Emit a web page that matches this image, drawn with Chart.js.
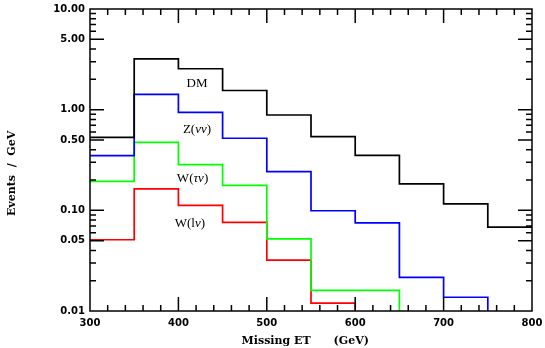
<!DOCTYPE html>
<html>
<head>
<meta charset="utf-8">
<script src="https://cdn.jsdelivr.net/npm/chart.js@4.4.1/dist/chart.umd.min.js"></script>
<style>
  body { margin: 0; background: #fff; }
</style>
</head>
<body>
<canvas id="histChart" width="545" height="348"></canvas>
<script>
// bin edges in Missing ET (GeV)
const binEdges = [300, 350, 400, 450, 500, 550, 600, 650, 700, 750, 800];

// events / GeV per bin (0.001 = below the plotted range)
const dmValues  = [0.53, 3.19, 2.55, 1.55, 0.885, 0.54, 0.352, 0.183, 0.116, 0.068];
const zvvValues = [0.35, 1.42, 0.94, 0.52, 0.242, 0.099, 0.075, 0.0216, 0.0137, 0.001];
const wtvValues = [0.194, 0.473, 0.284, 0.177, 0.052, 0.016, 0.016, 0.001, 0.001, 0.001];
const wlvValues = [0.051, 0.163, 0.112, 0.076, 0.032, 0.012, 0.001, 0.001, 0.001, 0.001];

const yTickLabels = [0.01, 0.05, 0.1, 0.5, 1, 5, 10];
const xTickLabels = [300, 400, 500, 600, 700, 800];

// curve labels placed in data coordinates
const curveNames = ['DM', 'Z(νν)', 'W(τν)', 'W(lν)'];
const curveNameX = [421, 421, 416, 413];
const curveNameY = [1.81, 0.63, 0.206, 0.074];

function toSteps(values) {
  const pts = values.map((v, i) => ({ x: binEdges[i], y: v }));
  pts.push({ x: binEdges[binEdges.length - 1], y: values[values.length - 1] });
  return pts;
}

function histSet(label, values, color) {
  return {
    label: label,
    data: toSteps(values),
    borderColor: color,
    borderWidth: 1.7,
    stepped: 'before',
    pointRadius: 0,
    fill: false
  };
}

// inward ticks on all four sides plus the frame
const frameTicks = {
  id: 'frameTicks',
  afterDatasetsDraw(chart) {
    const ctx = chart.ctx;
    const a = chart.chartArea;
    const xs = chart.scales.x;
    const ys = chart.scales.y;
    ctx.save();
    ctx.strokeStyle = '#000';
    ctx.lineWidth = 1.5;
    ctx.beginPath();
    for (let v = 320; v < 800; v += 20) {
      const px = xs.getPixelForValue(v);
      const len = (v % 100 === 0) ? 14 : 6;
      ctx.moveTo(px, a.bottom); ctx.lineTo(px, a.bottom - len);
      ctx.moveTo(px, a.top); ctx.lineTo(px, a.top + len);
    }
    [0.01, 0.1, 1].forEach(dec => {
      for (let m = 1; m <= 9; m++) {
        const val = dec * m;
        if (val <= 0.01 || val >= 10) continue;
        const py = ys.getPixelForValue(val);
        const len = (m === 1 || m === 5) ? 14 : 6;
        ctx.moveTo(a.left, py); ctx.lineTo(a.left + len, py);
        ctx.moveTo(a.right, py); ctx.lineTo(a.right - len, py);
      }
    });
    ctx.stroke();
    ctx.strokeRect(a.left, a.top, a.right - a.left, a.bottom - a.top);
    ctx.restore();
  }
};

const curveLabels = {
  id: 'curveLabels',
  afterDatasetsDraw(chart) {
    const ctx = chart.ctx;
    const xs = chart.scales.x;
    const ys = chart.scales.y;
    const plain = '13px "Liberation Serif"';
    const italic = 'italic 13px "Liberation Serif"';
    ctx.save();
    ctx.fillStyle = '#000';
    ctx.textBaseline = 'middle';
    ctx.textAlign = 'left';
    curveNames.forEach((name, i) => {
      const chars = Array.from(name);
      let total = 0;
      chars.forEach(c => {
        ctx.font = /[ντ]/.test(c) ? italic : plain;
        total += ctx.measureText(c).width;
      });
      let px = xs.getPixelForValue(curveNameX[i]) - total / 2;
      const py = ys.getPixelForValue(curveNameY[i]);
      chars.forEach(c => {
        ctx.font = /[ντ]/.test(c) ? italic : plain;
        ctx.fillText(c, px, py);
        px += ctx.measureText(c).width;
      });
    });
    ctx.restore();
  }
};

const tickFont = { family: 'DejaVu Sans', size: 10, weight: 'bold' };
const titleFont = { family: 'DejaVu Serif', size: 11, weight: 'bold' };

new Chart(document.getElementById('histChart'), {
  type: 'line',
  data: {
    datasets: [
      histSet('DM', dmValues, '#000000'),
      histSet('Z(νν)', zvvValues, '#0000ff'),
      histSet('W(τν)', wtvValues, '#00ff00'),
      histSet('W(lν)', wlvValues, '#ff0000')
    ]
  },
  options: {
    responsive: false,
    animation: false,
    layout: { padding: { top: 9, right: 13, left: 0, bottom: 0 } },
    plugins: { legend: { display: false }, tooltip: { enabled: false } },
    scales: {
      x: {
        type: 'linear',
        min: 300,
        max: 800,
        afterFit: s => { s.height = 37; s.paddingLeft = 0; s.paddingRight = 0; },
        afterBuildTicks: s => { s.ticks = xTickLabels.map(v => ({ value: v })); },
        ticks: { font: tickFont, color: '#000', padding: 6, maxRotation: 0 },
        grid: { display: false, drawTicks: false },
        border: { display: false },
        title: {
          display: true,
          text: 'Missing ET      (GeV)   ',
          font: titleFont,
          color: '#000',
          padding: { top: 0, bottom: 0 }
        }
      },
      y: {
        type: 'logarithmic',
        min: 0.01,
        max: 10,
        afterFit: s => { s.width = 90; s.paddingTop = 0; s.paddingBottom = 0; },
        afterBuildTicks: s => { s.ticks = yTickLabels.map(v => ({ value: v })); },
        ticks: {
          font: tickFont,
          color: '#000',
          padding: 5,
          autoSkip: false,
          callback: v => Number(v).toFixed(2)
        },
        grid: { display: false, drawTicks: false },
        border: { display: false },
        title: {
          display: true,
          text: 'Events  /  GeV       ',
          font: titleFont,
          color: '#000',
          padding: { top: 6, bottom: 0 }
        }
      }
    }
  },
  plugins: [frameTicks, curveLabels]
});
</script>
</body>
</html>
